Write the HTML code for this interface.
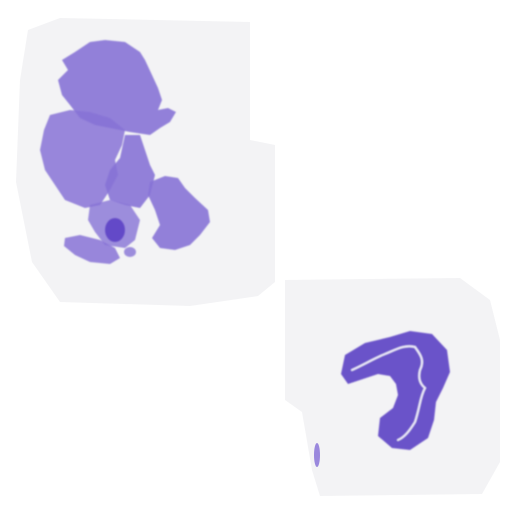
<!DOCTYPE html>
<html><head><meta charset="utf-8"><style>
html,body{margin:0;padding:0;background:#fff;width:512px;height:512px;overflow:hidden}
</style></head><body>
<svg width="512" height="512" viewBox="0 0 512 512">
<defs>
<filter id="f" x="-20%" y="-20%" width="140%" height="140%"><feGaussianBlur stdDeviation="0.8"/></filter>
</defs>
<polygon fill="#f3f3f5"
 points="28,30 60,18 250,22 250,140 275,145 275,282 258,296 190,306 60,302 32,262 16,182 20,80"/>
<polygon fill="#f3f3f5"
 points="285,280 460,278 490,300 500,340 500,462 482,494 320,496 312,470 302,412 285,400"/>
<g fill="#8773d6" filter="url(#f)">
<polygon opacity="0.9" points="75,52 90,42 105,40 125,42 140,52 145,60 152,75 158,88 162,100 158,110 168,108 176,112 170,122 160,128 150,135 130,132 110,128 95,125 80,118 70,105 62,95 58,80 68,70 62,60"/>
<polygon opacity="0.85" points="50,115 70,110 90,112 110,118 125,130 122,145 115,160 118,175 110,190 100,205 85,208 65,200 55,185 45,170 40,150 44,130"/>
<polygon opacity="0.9" points="125,135 140,135 145,150 150,165 155,175 150,195 140,208 125,205 110,200 105,185 110,170 120,158"/>
<polygon opacity="0.9" points="150,182 165,176 178,178 185,188 195,198 208,210 210,222 200,235 190,245 175,250 160,248 152,238 160,225 155,210 148,195"/>
<polygon opacity="0.85" points="65,238 80,235 100,240 115,248 120,258 110,264 90,262 75,255 64,246"/>
<polygon opacity="0.8" points="90,205 110,200 130,205 140,220 135,240 125,248 105,245 95,232 88,220"/>
<ellipse cx="115" cy="230" rx="10" ry="12" fill="#6448c8"/>
<ellipse cx="130" cy="252" rx="6" ry="5" opacity="0.8"/>
</g>
<g filter="url(#f)">
<polygon fill="#6b52c9" points="341,374 345,355 365,343 390,337 410,331 432,334 447,350 450,372 443,388 436,402 434,420 428,438 410,450 392,448 378,436 380,418 393,408 398,395 396,384 390,376 378,374 360,380 348,384"/>
<path d="M352,370 C365,364 375,358 385,354 C395,350 405,344 415,347 C420,354 425,360 420,370 C418,378 420,384 425,388 C420,397 420,407 415,422 C410,430 405,437 398,440"
 fill="none" stroke="#f0eefa" stroke-width="2" stroke-linecap="round"/>
</g>
<ellipse cx="317" cy="455" rx="3" ry="12" fill="#9a88dd"/>
</svg>
</body></html>
